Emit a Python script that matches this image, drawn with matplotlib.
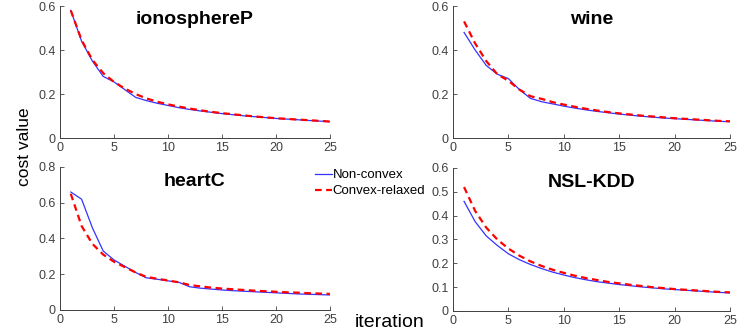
import numpy as np
import matplotlib.pyplot as plt

plt.rcParams['font.family'] = ['Liberation Sans', 'DejaVu Sans']

it = np.arange(1, 26)
names = ['ionosphereP', 'wine', 'heartC', 'NSL-KDD']

iono_nc = [0.58, 0.44, 0.35, 0.28, 0.255, 0.22, 0.185, 0.17, 0.158, 0.148, 0.138, 0.13, 0.123,
           0.117, 0.111, 0.106, 0.101, 0.097, 0.093, 0.089, 0.086, 0.083, 0.080, 0.077, 0.074]
iono_cr = [0.58, 0.445, 0.355, 0.295, 0.255, 0.225, 0.20, 0.18, 0.165, 0.153, 0.143, 0.134, 0.126,
           0.119, 0.113, 0.108, 0.103, 0.098, 0.094, 0.090, 0.087, 0.084, 0.081, 0.078, 0.075]
wine_nc = [0.48, 0.40, 0.33, 0.29, 0.27, 0.22, 0.18, 0.165, 0.155, 0.145, 0.136, 0.128, 0.121,
           0.115, 0.109, 0.104, 0.099, 0.095, 0.091, 0.088, 0.085, 0.082, 0.079, 0.076, 0.074]
wine_cr = [0.53, 0.43, 0.35, 0.29, 0.26, 0.22, 0.19, 0.178, 0.163, 0.152, 0.142, 0.133, 0.125,
           0.118, 0.112, 0.107, 0.102, 0.098, 0.094, 0.090, 0.087, 0.084, 0.081, 0.078, 0.076]
heart_nc = [0.66, 0.62, 0.46, 0.33, 0.28, 0.245, 0.21, 0.18, 0.172, 0.163, 0.155, 0.13, 0.122,
            0.117, 0.112, 0.108, 0.105, 0.102, 0.099, 0.096, 0.093, 0.090, 0.088, 0.086, 0.084]
heart_cr = [0.65, 0.47, 0.37, 0.31, 0.27, 0.24, 0.21, 0.185, 0.175, 0.165, 0.155, 0.14, 0.132,
            0.125, 0.12, 0.116, 0.112, 0.108, 0.105, 0.102, 0.099, 0.097, 0.094, 0.092, 0.090]
nsl_nc = [0.46, 0.375, 0.315, 0.275, 0.24, 0.215, 0.195, 0.178, 0.163, 0.151, 0.14, 0.131, 0.123,
          0.117, 0.111, 0.106, 0.101, 0.097, 0.093, 0.090, 0.087, 0.084, 0.081, 0.078, 0.076]
nsl_cr = [0.52, 0.42, 0.35, 0.30, 0.262, 0.232, 0.208, 0.189, 0.173, 0.16, 0.148, 0.138, 0.13,
          0.122, 0.116, 0.11, 0.105, 0.10, 0.096, 0.092, 0.089, 0.086, 0.083, 0.080, 0.078]

nonconvex = [iono_nc, wine_nc, heart_nc, nsl_nc]
relaxed = [iono_cr, wine_cr, heart_cr, nsl_cr]
ymax = [0.6, 0.6, 0.8, 0.6]
ystep = [0.2, 0.2, 0.2, 0.1]

fig = plt.figure(figsize=(7.47, 3.32), dpi=100)
pos = [[0.0803, 0.5843, 0.3614, 0.3976],
       [0.6064, 0.5843, 0.3708, 0.3976],
       [0.0803, 0.0663, 0.3614, 0.4307],
       [0.6064, 0.0633, 0.3708, 0.4307]]

gray = '#404040'
for k in range(4):
    ax = fig.add_axes(pos[k])
    l1, = ax.plot(it, nonconvex[k], color='#3333ff', lw=0.9, label='Non-convex')
    l2, = ax.plot(it, relaxed[k], color='#ff0000', lw=1.6, ls=(0, (3, 2)), label='Convex-relaxed')
    ax.set_xlim(0, 25)
    ax.set_ylim(0, ymax[k])
    ax.set_xticks([0, 5, 10, 15, 20, 25])
    yt = np.round(np.arange(0, ymax[k] + 1e-9, ystep[k]), 2)
    ax.set_yticks(yt)
    ax.set_yticklabels(['0' if v == 0 else ('%g' % v) for v in yt])
    ax.spines['top'].set_visible(False)
    ax.spines['right'].set_visible(False)
    for s in ['left', 'bottom']:
        ax.spines[s].set_color(gray)
        ax.spines[s].set_linewidth(0.7)
    ax.tick_params(direction='in', length=3, width=0.6, colors=gray, labelsize=9, pad=3)
    ax.text(0.5, 0.96, names[k], transform=ax.transAxes, ha='center', va='top',
            fontsize=14, fontweight='bold')

fig.legend(handles=[l1, l2], loc='upper left', bbox_to_anchor=(0.4217, 0.491), frameon=False,
           fontsize=9.5, handlelength=1.25, handletextpad=0.1, labelspacing=0.3,
           borderpad=0, borderaxespad=0)
fig.text(0.033, 0.557, 'cost value', rotation=90, ha='center', va='center', fontsize=12.5)
fig.text(0.522, 0.03, 'iteration', ha='center', va='center', fontsize=14)

fig.savefig('out.png', dpi=100)
